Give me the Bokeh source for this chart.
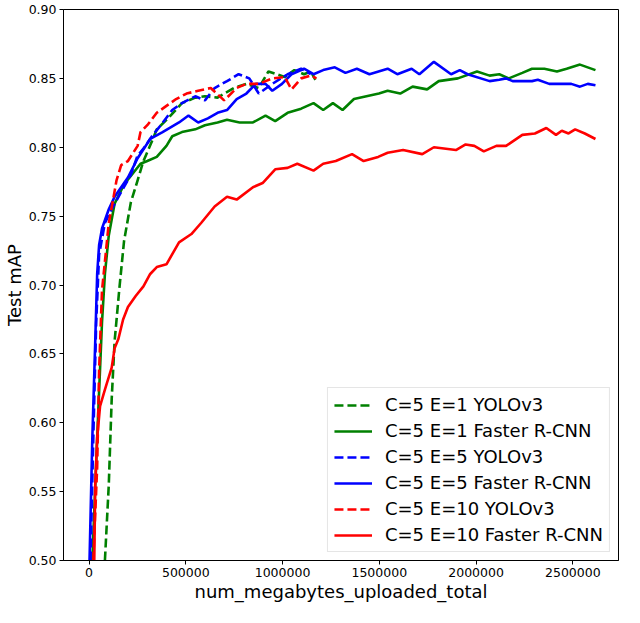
from bokeh.plotting import figure
from bokeh.models import Range1d, FixedTicker, NumeralTickFormatter, BasicTickFormatter, Legend, LegendItem
from bokeh.embed import file_html
from bokeh.resources import INLINE

# ---- data ----
e1_yolo_x = [82000, 102000, 117000, 132000, 157000, 181000, 216000, 251000, 281000, 330000,
             350000, 415000, 480000, 549000, 599000, 664000, 748000, 813000, 877000, 927000,
             1011000, 1061000, 1111000, 1146000, 1170000]
e1_yolo_y = [0.500, 0.555, 0.617, 0.659, 0.698, 0.732, 0.760, 0.776, 0.790, 0.806,
             0.813, 0.822, 0.832, 0.836, 0.837, 0.836, 0.843, 0.846, 0.843, 0.855,
             0.851, 0.856, 0.853, 0.855, 0.849]

e1_frcnn_x = [17000, 42000, 67000, 82000, 102000, 132000, 181000, 266000, 301000, 350000,
              400000, 430000, 480000, 549000, 599000, 664000, 713000, 778000, 847000, 912000,
              962000, 1026000, 1096000, 1160000, 1210000, 1260000, 1310000, 1369000, 1498000, 1543000,
              1608000, 1672000, 1747000, 1807000, 1906000, 2005000, 2070000, 2120000, 2169000, 2239000,
              2289000, 2353000, 2418000, 2468000, 2537000, 2617000]
e1_frcnn_y = [0.500, 0.589, 0.673, 0.708, 0.736, 0.759, 0.773, 0.788, 0.790, 0.793,
              0.801, 0.808, 0.811, 0.813, 0.816, 0.818, 0.820, 0.818, 0.818, 0.823,
              0.819, 0.825, 0.828, 0.832, 0.827, 0.832, 0.827, 0.835, 0.839, 0.841,
              0.839, 0.844, 0.842, 0.848, 0.850, 0.855, 0.852, 0.853, 0.850, 0.854,
              0.857, 0.857, 0.855, 0.857, 0.860, 0.856]

e5_yolo_x = [7500, 22000, 37000, 52000, 82000, 117000, 152000, 216000, 251000, 281000,
             330000, 365000, 430000, 480000, 549000, 599000, 649000, 713000, 773000, 828000,
             877000, 947000, 1026000, 1096000, 1146000]
e5_yolo_y = [0.500, 0.589, 0.673, 0.722, 0.745, 0.755, 0.764, 0.780, 0.794, 0.799,
             0.809, 0.815, 0.827, 0.832, 0.837, 0.834, 0.843, 0.848, 0.853, 0.850,
             0.839, 0.846, 0.853, 0.857, 0.853]

e5_frcnn_x = [2500, 17000, 32000, 42000, 52000, 67000, 102000, 132000, 201000, 251000,
              316000, 380000, 465000, 514000, 564000, 614000, 664000, 713000, 763000, 813000,
              862000, 912000, 947000, 997000, 1046000, 1111000, 1160000, 1210000, 1270000, 1325000,
              1384000, 1449000, 1543000, 1593000, 1667000, 1707000, 1782000, 1871000, 1916000, 1956000,
              2070000, 2120000, 2155000, 2189000, 2289000, 2319000, 2378000, 2453000, 2492000, 2537000,
              2577000, 2617000]
e5_frcnn_y = [0.500, 0.589, 0.659, 0.708, 0.729, 0.741, 0.755, 0.764, 0.778, 0.792,
              0.806, 0.811, 0.818, 0.823, 0.818, 0.821, 0.825, 0.827, 0.835, 0.839,
              0.846, 0.846, 0.841, 0.846, 0.853, 0.857, 0.853, 0.856, 0.858, 0.854,
              0.857, 0.853, 0.857, 0.853, 0.857, 0.853, 0.862, 0.853, 0.856, 0.853,
              0.848, 0.849, 0.850, 0.848, 0.848, 0.849, 0.846, 0.846, 0.846, 0.844,
              0.846, 0.845]

e10_yolo_x = [22000, 42000, 52000, 67000, 102000, 127000, 142000, 166000, 201000, 251000,
              266000, 301000, 350000, 400000, 450000, 504000, 564000, 629000, 698000, 763000,
              813000, 877000, 947000, 1011000, 1046000, 1096000, 1146000, 1175000]
e10_yolo_y = [0.500, 0.568, 0.638, 0.696, 0.745, 0.764, 0.776, 0.787, 0.790, 0.801,
              0.811, 0.816, 0.825, 0.830, 0.835, 0.839, 0.841, 0.843, 0.834, 0.843,
              0.846, 0.846, 0.850, 0.851, 0.842, 0.850, 0.852, 0.850]

e10_frcnn_x = [27000, 32000, 42000, 57000, 82000, 117000, 132000, 152000, 176000, 201000,
               241000, 281000, 316000, 350000, 400000, 465000, 529000, 579000, 649000, 713000,
               763000, 847000, 897000, 962000, 1026000, 1076000, 1160000, 1210000, 1275000, 1359000,
               1419000, 1494000, 1543000, 1623000, 1722000, 1782000, 1896000, 1946000, 1991000, 2040000,
               2105000, 2155000, 2239000, 2304000, 2363000, 2413000, 2443000, 2478000, 2512000, 2562000,
               2617000]
e10_frcnn_y = [0.500, 0.555, 0.589, 0.612, 0.624, 0.640, 0.654, 0.661, 0.675, 0.684,
               0.692, 0.699, 0.708, 0.713, 0.715, 0.731, 0.737, 0.745, 0.757, 0.764,
               0.762, 0.771, 0.774, 0.784, 0.785, 0.788, 0.783, 0.788, 0.790, 0.795,
               0.790, 0.793, 0.796, 0.798, 0.795, 0.800, 0.798, 0.802, 0.801, 0.797,
               0.801, 0.801, 0.809, 0.810, 0.814, 0.809, 0.812, 0.810, 0.813, 0.810,
               0.806]

x_ticks = [0, 500000, 1000000, 1500000, 2000000, 2500000]
y_ticks = [0.50, 0.55, 0.60, 0.65, 0.70, 0.75, 0.80, 0.85, 0.90]

series = [
    ("C=5 E=1 YOLOv3", e1_yolo_x, e1_yolo_y, "#008000", "dashed"),
    ("C=5 E=1 Faster R-CNN", e1_frcnn_x, e1_frcnn_y, "#008000", "solid"),
    ("C=5 E=5 YOLOv3", e5_yolo_x, e5_yolo_y, "#0000ff", "dashed"),
    ("C=5 E=5 Faster R-CNN", e5_frcnn_x, e5_frcnn_y, "#0000ff", "solid"),
    ("C=5 E=10 YOLOv3", e10_yolo_x, e10_yolo_y, "#ff0000", "dashed"),
    ("C=5 E=10 Faster R-CNN", e10_frcnn_x, e10_frcnn_y, "#ff0000", "solid"),
]

FONT = "DejaVu Sans"

p = figure(width=624, height=604, output_backend="svg", toolbar_location=None,
           x_range=Range1d(-132000, 2736000), y_range=Range1d(0.50, 0.90),
           min_border_left=4, min_border_right=6, min_border_top=9, min_border_bottom=0)

p.background_fill_color = "white"
p.border_fill_color = "white"
p.outline_line_color = "black"
p.outline_line_width = 1
p.outline_line_alpha = 1
p.xgrid.visible = False
p.ygrid.visible = False

items = []
for label, xs, ys, color, style in series:
    dash = "9 4" if style == "dashed" else "solid"
    r = p.line(xs, ys, line_color=color, line_width=2.6, line_dash=dash)
    items.append(LegendItem(label=label, renderers=[r]))

for ax in (p.xaxis[0], p.yaxis[0]):
    ax.axis_line_color = "black"
    ax.axis_line_width = 1
    ax.major_tick_line_color = "black"
    ax.major_tick_in = 0
    ax.major_tick_out = 4
    ax.minor_tick_line_color = None
    ax.major_label_text_font = FONT
    ax.major_label_text_font_size = "12.5px"
    ax.major_label_text_color = "black"
    ax.axis_label_text_font = FONT
    ax.axis_label_text_font_size = "18px"
    ax.axis_label_text_font_style = "normal"
    ax.axis_label_text_color = "black"

p.xaxis.ticker = FixedTicker(ticks=x_ticks)
p.xaxis.formatter = BasicTickFormatter(use_scientific=False)
p.xaxis.axis_label = "num_megabytes_uploaded_total"
p.xaxis.major_label_standoff = 3
p.xaxis.axis_label_standoff = 1

p.yaxis.ticker = FixedTicker(ticks=y_ticks)
p.yaxis.formatter = NumeralTickFormatter(format="0.00")
p.yaxis.axis_label = "Test mAP"
p.yaxis.major_label_standoff = 3
p.yaxis.axis_label_standoff = 1

legend = Legend(items=items, location="bottom_right")
legend.margin = 8
legend.padding = 6
legend.spacing = 5
legend.glyph_width = 38
legend.glyph_height = 20
legend.label_height = 20
legend.label_standoff = 13
legend.label_text_font = FONT
legend.label_text_font_size = "18px"
legend.label_text_color = "black"
legend.border_line_color = "#cccccc"
legend.border_line_width = 1
legend.background_fill_color = "white"
legend.background_fill_alpha = 0.8
p.add_layout(legend)

open("out.html", "w").write(file_html(p, INLINE))
